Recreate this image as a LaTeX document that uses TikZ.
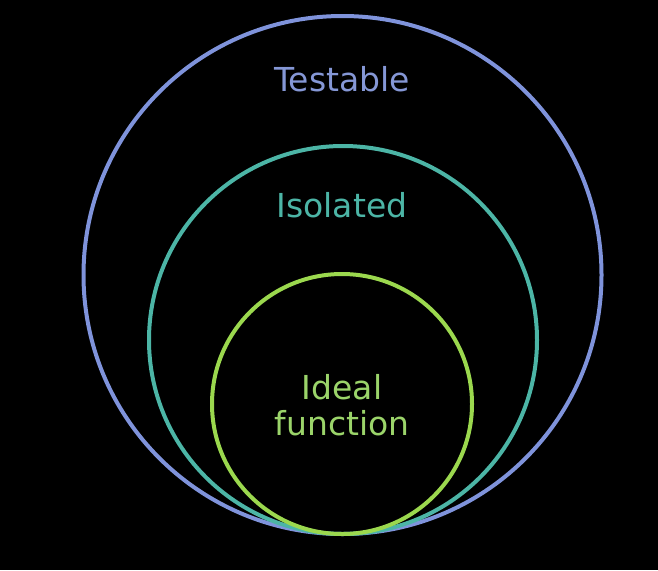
\documentclass[tikz,border=0pt]{standalone}
\usepackage{fontspec}
\setmainfont{DejaVu Sans}
\definecolor{cblue}{HTML}{7F93DB}
\definecolor{cteal}{HTML}{4CB5A6}
\definecolor{cgreen}{HTML}{9BD84E}
\definecolor{tblue}{HTML}{8597D6}
\definecolor{tteal}{HTML}{4CB5A6}
\definecolor{tgreen}{HTML}{9BD46A}
\begin{document}
\begin{tikzpicture}[x=1pt,y=-1pt,
  ring/.style={circle,draw,line width=4pt,inner sep=0pt},
  lbl/.style={font=\fontsize{33}{36}\selectfont,align=center,inner sep=0pt}]
\fill[black] (0,0) rectangle (658,570);
\useasboundingbox (0,0) rectangle (658,570);
\node[ring,draw=cblue,minimum size=518pt] (outer) at (342.5,275) {};
\node[ring,draw=cteal,minimum size=388pt] (middle) at (343,340) {};
\node[ring,draw=cgreen,minimum size=260pt] (inner) at (342,404) {};
\node[lbl,text=tblue] (t1) at (342,79) {Testable};
\node[lbl,text=tteal] (t2) at (342,205) {Isolated};
\node[lbl,text=tgreen] (t3) at (342,405) {Ideal\\function};
\end{tikzpicture}
\end{document}
